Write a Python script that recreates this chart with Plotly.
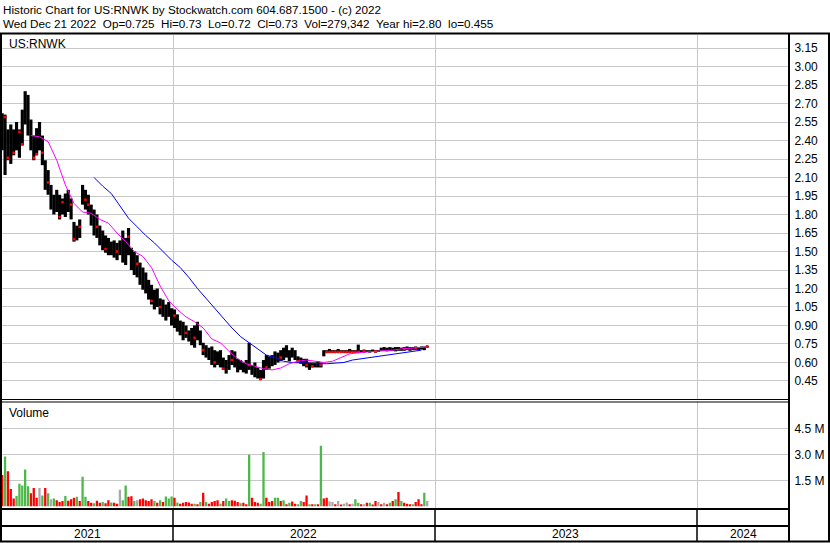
import plotly.graph_objects as go
import pandas as pd

W, H = 830, 543

# ---------------- data ----------------
dates = pd.date_range("2021-05-08", "2022-12-21", freq="4D")  # sample dates (149)

high = [
    2.62, 2.61, 2.49, 2.53, 2.49, 2.55, 2.49, 2.65, 2.80, 2.77,
    2.57, 2.44, 2.50, 2.55, 2.44, 2.24, 2.16, 2.04, 1.96, 2.00,
    1.96, 1.93, 1.97, 2.00, 1.93, 1.74, 1.71, 1.76, 2.04, 2.00,
    1.96, 1.88, 1.84, 1.80, 1.71, 1.67, 1.63, 1.61, 1.58, 1.59,
    1.57, 1.59, 1.67, 1.61, 1.69, 1.53, 1.50, 1.47, 1.41, 1.37,
    1.33, 1.27, 1.23, 1.19, 1.20, 1.12, 1.11, 1.07, 1.09, 1.04,
    1.03, 0.99, 0.94, 0.93, 0.90, 0.86, 0.88, 0.90, 0.93, 0.86,
    0.76, 0.74, 0.72, 0.73, 0.70, 0.69, 0.70, 0.64, 0.62, 0.66,
    0.70, 0.69, 0.63, 0.62, 0.60, 0.62, 0.76, 0.58, 0.60, 0.56,
    0.54, 0.62, 0.66, 0.65, 0.66, 0.69, 0.68, 0.70, 0.72, 0.74,
    0.70, 0.72, 0.70, 0.65, 0.64, 0.63, 0.63, 0.60, 0.60, 0.60,
    0.61, 0.60, 0.70, 0.70, 0.71, 0.70, 0.70, 0.71, 0.70, 0.70,
    0.70, 0.71, 0.70, 0.70, 0.745, 0.70, 0.705, 0.70, 0.70, 0.705,
    0.70, 0.70, 0.72, 0.725, 0.72, 0.725, 0.72, 0.725, 0.725, 0.72,
    0.725, 0.73, 0.725, 0.725, 0.73, 0.725, 0.73, 0.73, 0.735,
]
low = [
    2.32, 2.12, 2.24, 2.21, 2.28, 2.32, 2.26, 2.36, 2.53, 2.44,
    2.32, 2.24, 2.28, 2.32, 2.20, 2.00, 1.96, 1.84, 1.80, 1.82,
    1.76, 1.80, 1.78, 1.82, 1.76, 1.58, 1.59, 1.61, 1.88, 1.84,
    1.80, 1.71, 1.63, 1.61, 1.55, 1.51, 1.49, 1.47, 1.47, 1.45,
    1.43, 1.47, 1.41, 1.39, 1.47, 1.35, 1.31, 1.29, 1.23, 1.19,
    1.16, 1.11, 1.07, 1.03, 1.05, 0.99, 0.97, 0.94, 0.97, 0.90,
    0.88, 0.85, 0.82, 0.78, 0.80, 0.77, 0.74, 0.72, 0.78, 0.74,
    0.66, 0.64, 0.62, 0.58, 0.56, 0.58, 0.56, 0.54, 0.51, 0.54,
    0.58, 0.56, 0.52, 0.54, 0.52, 0.51, 0.54, 0.50, 0.48, 0.47,
    0.46, 0.47, 0.54, 0.55, 0.57, 0.58, 0.60, 0.61, 0.62, 0.64,
    0.61, 0.64, 0.62, 0.60, 0.59, 0.57, 0.56, 0.54, 0.56, 0.56,
    0.56, 0.56, 0.65, 0.68, 0.68, 0.68, 0.68, 0.685, 0.68, 0.68,
    0.68, 0.68, 0.685, 0.68, 0.69, 0.685, 0.68, 0.685, 0.68, 0.685,
    0.68, 0.685, 0.695, 0.695, 0.69, 0.695, 0.695, 0.69, 0.695, 0.695,
    0.695, 0.70, 0.695, 0.70, 0.70, 0.70, 0.705, 0.70, 0.72,
]

# red close ticks (sample index, price)
red_idx = [1, 2, 4, 6, 7, 11, 12, 14, 16, 20, 21, 24, 25, 27, 29, 30, 33, 36, 40,
           44, 47, 52, 55, 60, 64, 67, 70, 74, 77, 80, 86, 90, 92, 97, 103, 106,
           108, 111, 113, 114, 115, 116, 117, 118, 119, 120, 121, 122, 123, 124,
           126, 130, 140, 144, 148]
red_px = [2.59, 2.26, 2.30, 2.47, 2.37, 2.26, 2.29, 2.30, 2.06, 1.78, 1.90, 1.88,
          1.60, 1.70, 1.92, 1.88, 1.70, 1.52, 1.50, 1.62, 1.40, 1.10, 1.05, 0.98,
          0.84, 0.80, 0.70, 0.60, 0.55, 0.62, 0.58, 0.465, 0.56, 0.64, 0.61, 0.58,
          0.57, 0.58, 0.685, 0.685, 0.685, 0.685, 0.685, 0.685, 0.685, 0.685,
          0.685, 0.685, 0.685, 0.685, 0.69, 0.69, 0.71, 0.715, 0.73]

# moving averages (every 3rd sample date)
ma_fast_start = 10
ma_fast = [2.44, 2.43, 2.39, 2.24, 2.04, 1.89, 1.82, 1.81, 1.76, 1.73, 1.65, 1.58,
           1.50, 1.46, 1.37, 1.22, 1.10, 1.03, 0.97, 0.93, 0.88, 0.79, 0.76, 0.69,
           0.63, 0.59, 0.57, 0.55, 0.54, 0.555, 0.59, 0.61, 0.62, 0.61, 0.60, 0.61,
           0.64, 0.67, 0.68, 0.685, 0.685, 0.69, 0.70, 0.71, 0.715, 0.715, 0.725]
ma_slow_start = 32
ma_slow = [2.10, 2.03, 1.97, 1.87, 1.77, 1.70, 1.63, 1.57, 1.50, 1.43, 1.37, 1.29,
           1.20, 1.12, 1.04, 0.96, 0.88, 0.81, 0.76, 0.71, 0.66, 0.64, 0.61, 0.60,
           0.595, 0.59, 0.59, 0.59, 0.595, 0.60, 0.62, 0.63, 0.645, 0.65, 0.66,
           0.675, 0.685, 0.69, 0.70]

# volume in millions, direction g=up r=down n=unchanged
vol_m = [
    1.80, 2.88, 2.02, 1.00, 0.45, 0.59, 1.30, 1.20, 2.12, 1.15,
    0.75, 1.05, 0.50, 1.05, 0.62, 1.05, 0.75, 0.40, 0.45, 0.35,
    0.25, 0.30, 0.60, 0.32, 0.40, 0.50, 0.55, 0.30, 1.70, 0.55,
    0.30, 0.20, 0.18, 0.32, 0.20, 0.25, 0.18, 0.35, 0.22, 0.20,
    0.15, 0.95, 0.35, 1.20, 0.55, 0.58, 0.30, 0.35, 0.40, 0.45,
    0.35, 0.30, 0.40, 0.30, 0.20, 0.35, 0.25, 0.56, 0.45, 0.56,
    0.50, 0.22, 0.15, 0.20, 0.25, 0.22, 0.15, 0.15, 0.12, 0.25,
    0.78, 0.25, 0.15, 0.25, 0.30, 0.35, 0.15, 0.30, 0.45, 0.30,
    0.35, 0.32, 0.25, 0.18, 0.20, 0.12, 2.98, 0.50, 0.25, 0.20,
    0.15, 3.13, 0.50, 0.25, 0.30, 0.50, 0.50, 0.30, 0.35, 0.12,
    0.20, 0.28, 0.15, 0.12, 0.30, 0.25, 0.63, 0.12, 0.12, 0.12,
    0.12, 3.50, 0.45, 0.50, 0.28, 0.25, 0.12, 0.30, 0.10, 0.15,
    0.22, 0.12, 0.15, 0.40, 0.20, 0.12, 0.12, 0.20, 0.20, 0.10,
    0.30, 0.25, 0.12, 0.20, 0.12, 0.20, 0.30, 0.40, 0.82, 0.30,
    0.20, 0.15, 0.12, 0.12, 0.25, 0.40, 0.12, 0.78, 0.30,
]
vol_dir = list(
    "rgrrrggggg" "rrrngrgngr" "rrgrrrgrgg" "rrgrrgrrgr" "rnggrrgnrr"
    "rrrgrgrggg" "rgrrrrrgrg" "rgrrrrgrgg" "rrrgrrgrrr" "ggrrrggrgr"
    "grrggrrgrg" "rgrrnnrnrn" "nrnggrnrgr" "rnrnrgrgrg" "rrrgrrrgn"
)

price_ticks = [0.45, 0.60, 0.75, 0.90, 1.05, 1.20, 1.35, 1.50, 1.65, 1.80,
               1.95, 2.10, 2.25, 2.40, 2.55, 2.70, 2.85, 3.00, 3.15]
vol_ticks = [1.5, 3.0, 4.5]
vol_tick_labels = ["1.5 M", "3.0 M", "4.5 M"]
year_starts = ["2022-01-01", "2023-01-01", "2024-01-01"]
year_labels = ["2021", "2022", "2023", "2024"]
year_label_dates = ["2021-09-04", "2022-07-02", "2023-07-02", "2024-03-05"]

header1 = "Historic Chart for US:RNWK by Stockwatch.com 604.687.1500 - (c) 2022"
header2 = ("Wed Dec 21 2022\u00a0\u00a0Op=0.725\u00a0\u00a0Hi=0.73\u00a0\u00a0Lo=0.72\u00a0\u00a0"
           "Cl=0.73\u00a0\u00a0Vol=279,342\u00a0\u00a0Year hi=2.80\u00a0\u00a0lo=0.455")
symbol_label = "US:RNWK"
volume_label = "Volume"

# ---------------- styling ----------------
FONT = "Liberation Sans, Arial, sans-serif"
GRID = "#c8c8c8"
DIR_COLORS = {"g": "#4cb848", "r": "#ff0000", "n": "#a8a8a8"}
DAY_MS = 86400000


def X(px):
    return px / W


def Y(py):
    return (H - py) / H


fig = go.Figure()

fig.add_trace(go.Bar(
    x=dates, y=[h - l for h, l in zip(high, low)], base=low,
    width=4.4 * DAY_MS, marker=dict(color="black", line=dict(width=0)),
    xaxis="x2", yaxis="y2", hoverinfo="skip"))

fig.add_trace(go.Scatter(
    x=[dates[i] for i in red_idx], y=red_px, mode="markers",
    marker=dict(symbol="square", size=2.5, color="#ff0000", line=dict(width=0)),
    xaxis="x2", yaxis="y2", hoverinfo="skip"))

fig.add_trace(go.Scatter(
    x=dates[ma_slow_start::3][:len(ma_slow)], y=ma_slow, mode="lines",
    line=dict(color="#0000ff", width=1), xaxis="x2", yaxis="y2", hoverinfo="skip"))

fig.add_trace(go.Scatter(
    x=dates[ma_fast_start::3][:len(ma_fast)], y=ma_fast, mode="lines",
    line=dict(color="#ff00ff", width=1), xaxis="x2", yaxis="y2", hoverinfo="skip"))

fig.add_trace(go.Bar(
    x=dates, y=vol_m, width=3.2 * DAY_MS,
    marker=dict(color=[DIR_COLORS[d] for d in vol_dir], line=dict(width=0)),
    xaxis="x", yaxis="y", hoverinfo="skip"))

x_range = ["2021-05-07 18:00", "2024-05-08"]
xdom = [X(2), X(789)]
tickfont = dict(family=FONT, size=12, color="black")

common_x = dict(type="date", range=x_range, domain=xdom, tickvals=year_starts,
                showticklabels=False, showgrid=True, gridcolor=GRID, gridwidth=1,
                zeroline=False, showline=False, ticks="")

fig.update_layout(
    width=W, height=H,
    margin=dict(l=0, r=0, t=0, b=0),
    paper_bgcolor="white", plot_bgcolor="white",
    showlegend=False, barmode="overlay",
    xaxis=dict(anchor="y", **common_x),
    xaxis2=dict(anchor="y2", matches="x", **common_x),
    yaxis=dict(domain=[Y(507.5), Y(401)], range=[-0.069, 6.075], side="right",
               tickvals=vol_ticks, ticktext=vol_tick_labels, tickfont=tickfont,
               showgrid=True, gridcolor=GRID, zeroline=False, showline=False,
               ticks="outside", ticklen=2, tickcolor="rgba(0,0,0,0)"),
    yaxis2=dict(domain=[Y(399), Y(35)], range=[0.304, 3.2554], side="right",
                tickvals=price_ticks, ticktext=[f"{v:.2f}" for v in price_ticks],
                tickfont=tickfont, showgrid=True, gridcolor=GRID, zeroline=False,
                showline=False, ticks="outside", ticklen=2,
                tickcolor="rgba(0,0,0,0)"),
)

# frame lines
lines = [
    (0, 33.5, 830, 33.5, 2),      # under header
    (1, 33, 1, 542, 2),           # left border
    (789, 33, 789, 542, 2),       # axis border
    (829, 33, 829, 542, 2),       # right edge
    (0, 399.5, 789, 399.5, 1),    # price/volume double line
    (0, 402, 789, 402, 1),
    (0, 509, 789, 509, 2),        # bottom of volume
    (0, 526, 789, 526, 2),        # above year row
    (0, 541.5, 830, 541.5, 2),    # bottom
    (173, 509, 173, 542, 1.5),
    (435, 509, 435, 542, 1.5),
    (697, 509, 697, 542, 1.5),
]
for x0, y0, x1, y1, w in lines:
    fig.add_shape(type="line", xref="paper", yref="paper",
                  x0=X(x0), y0=Y(y0), x1=X(x1), y1=Y(y1),
                  line=dict(color="black", width=w), layer="above")


def text(s, px, py, size=12):
    fig.add_annotation(text=s, xref="paper", yref="paper", x=X(px), y=Y(py),
                       xanchor="left", yanchor="middle", showarrow=False,
                       font=dict(family=FONT, size=size, color="black"))


text(header1, 1, 9.5, 11.7)
text(header2, 1, 23, 11.7)
text(symbol_label, 7, 44)
text(volume_label, 7, 413)

for lab, d in zip(year_labels, year_label_dates):
    fig.add_annotation(text=lab, xref="x", yref="paper", x=d, y=Y(534),
                       xanchor="center", yanchor="middle", showarrow=False,
                       font=dict(family=FONT, size=12, color="black"))

fig.write_html("out.html",
               config={"displayModeBar": False, "staticPlot": True},
               post_script="document.body.style.margin='0px';"
                           "document.body.style.overflow='hidden';")
